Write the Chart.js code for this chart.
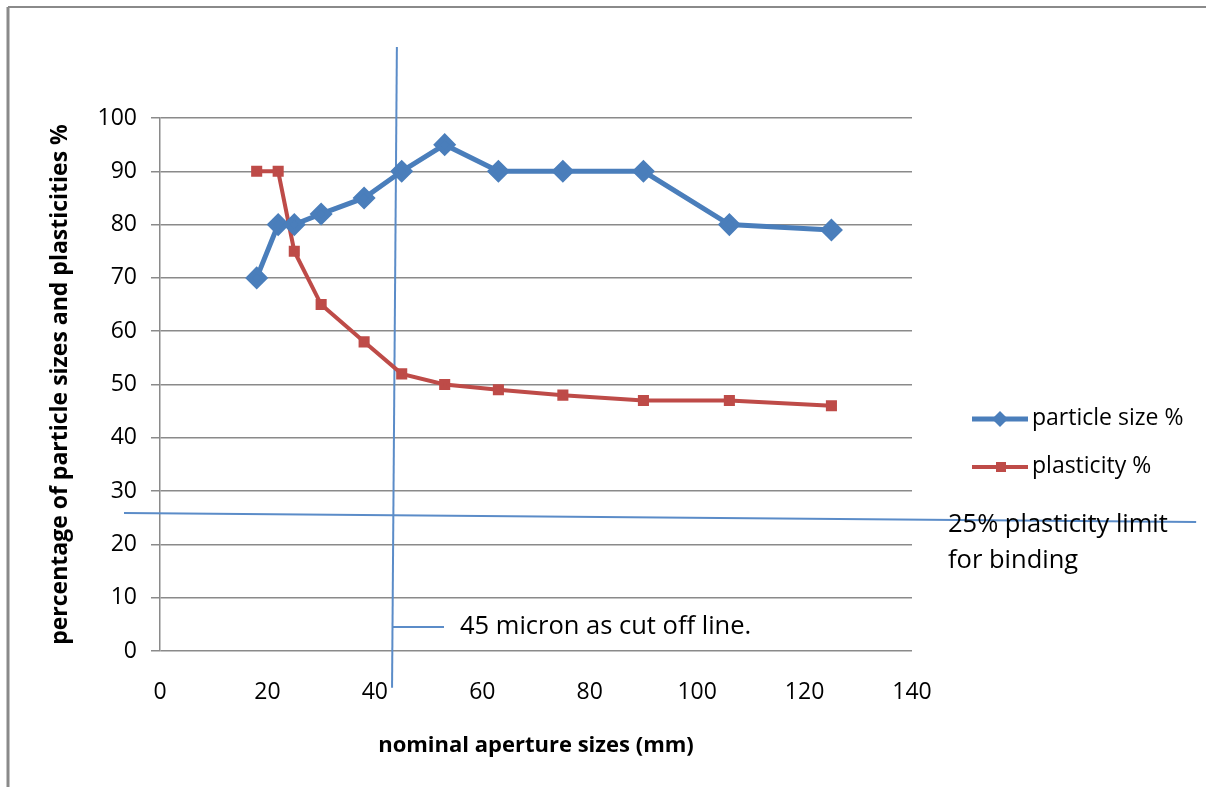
<!DOCTYPE html>
<html>
<head>
<meta charset="utf-8">
<script src="https://cdn.jsdelivr.net/npm/chart.js@4"></script>
<style>
  html, body { margin: 0; padding: 0; background: #fff; }
  #wrap { width: 1206px; height: 787px; }
</style>
</head>
<body>
<div id="wrap"><canvas id="chart" width="1206" height="787"></canvas></div>
<script>
const apertures = [18, 22, 25, 30, 38, 45, 53, 63, 75, 90, 106, 125];
const particleSize = [70, 80, 80, 82, 85, 90, 95, 90, 90, 90, 80, 79];
const plasticity = [90, 90, 75, 65, 58, 52, 50, 49, 48, 47, 47, 46];
// hand-drawn guide lines, in data units (they run past the plot area)
const cutoffX = [44.1, 43.2];
const cutoffY = [113.3, -6.9];
const limitX = [-6.7, 192.9];
const limitY = [25.9, 24.2];

const FONT = "'Open Sans', sans-serif";
const BLUE = "#4a7ebb";
const RED = "#be4b48";
const GUIDE = "#5b8cc8";

const toPoints = (xs, ys) => xs.map((x, i) => ({ x: x, y: ys[i] }));

// frame, legend and free text
const extras = {
  id: "extras",
  afterDraw(chart) {
    const ctx = chart.ctx;
    ctx.save();
    ctx.strokeStyle = "#8a8a8a";
    ctx.lineWidth = 3;
    ctx.beginPath();
    ctx.moveTo(8, 787);
    ctx.lineTo(8, 7);
    ctx.stroke();
    ctx.lineWidth = 2;
    ctx.beginPath();
    ctx.moveTo(8, 7);
    ctx.lineTo(1206, 7);
    ctx.stroke();

    ctx.font = "23px " + FONT;
    ctx.fillStyle = "#000";
    ctx.textBaseline = "middle";
    // legend
    ctx.strokeStyle = BLUE;
    ctx.lineWidth = 5;
    ctx.beginPath(); ctx.moveTo(972, 419); ctx.lineTo(1028, 419); ctx.stroke();
    ctx.fillStyle = BLUE;
    ctx.beginPath();
    ctx.moveTo(1000, 411); ctx.lineTo(1008, 419); ctx.lineTo(1000, 427); ctx.lineTo(992, 419);
    ctx.closePath(); ctx.fill();
    ctx.strokeStyle = RED;
    ctx.lineWidth = 4;
    ctx.beginPath(); ctx.moveTo(972, 467); ctx.lineTo(1028, 467); ctx.stroke();
    ctx.fillStyle = RED;
    ctx.fillRect(996, 462, 10, 10);
    ctx.fillStyle = "#000";
    ctx.fillText("particle size %", 1032, 418);
    ctx.fillText("plasticity %", 1032, 466);

    ctx.font = "25.5px " + FONT;
    ctx.fillText("25% plasticity limit", 948, 525);
    ctx.fillText("for binding", 948, 561);

    ctx.strokeStyle = GUIDE;
    ctx.lineWidth = 2;
    ctx.beginPath(); ctx.moveTo(392, 627); ctx.lineTo(444, 627); ctx.stroke();
    ctx.fillText("45 micron as cut off line.", 460, 627);
    ctx.restore();
  }
};

new Chart(document.getElementById("chart"), {
  type: "line",
  data: {
    datasets: [
      {
        label: "particle size %",
        data: toPoints(apertures, particleSize),
        borderColor: BLUE,
        backgroundColor: BLUE,
        borderWidth: 5,
        pointStyle: "rectRot",
        pointRadius: 8,
        pointHoverRadius: 8,
        tension: 0
      },
      {
        label: "plasticity %",
        data: toPoints(apertures, plasticity),
        borderColor: RED,
        backgroundColor: RED,
        borderWidth: 4,
        pointStyle: "rect",
        pointRadius: 5,
        pointHoverRadius: 5,
        tension: 0
      },
      {
        label: "cutoff",
        data: toPoints(cutoffX, cutoffY),
        borderColor: GUIDE,
        borderWidth: 2,
        pointRadius: 0,
        clip: false
      },
      {
        label: "limit",
        data: toPoints(limitX, limitY),
        borderColor: GUIDE,
        borderWidth: 2,
        pointRadius: 0,
        clip: false
      }
    ]
  },
  options: {
    responsive: false,
    animation: false,
    layout: { padding: { top: 118, right: 294, bottom: 0, left: 0 } },
    plugins: {
      legend: { display: false },
      tooltip: { enabled: false }
    },
    scales: {
      x: {
        type: "linear",
        min: 0,
        max: 140,
        ticks: { stepSize: 20, padding: 28, color: "#000", font: { family: FONT, size: 23 } },
        grid: { display: false, drawTicks: false },
        border: { display: false },
        title: {
          display: true,
          text: "nominal aperture sizes (mm)",
          color: "#000",
          font: { family: FONT, size: 22, weight: "bold" },
          padding: { top: 0, bottom: 28 }
        },
        afterFit(scale) { scale.height = 136; }
      },
      y: {
        min: 0,
        max: 100,
        ticks: { stepSize: 10, padding: 14, color: "#000", font: { family: FONT, size: 23 } },
        grid: { color: "#8a8a8a", lineWidth: 1.5, tickLength: 9 },
        border: { color: "#8a8a8a", width: 1.5 },
        title: {
          display: true,
          text: "percentage of particle sizes and plasticities %",
          color: "#000",
          font: { family: FONT, size: 23, weight: "bold" },
          padding: { top: 47, bottom: 0 }
        },
        afterFit(scale) { scale.width = 160; }
      }
    }
  },
  plugins: [extras]
});
</script>
</body>
</html>
